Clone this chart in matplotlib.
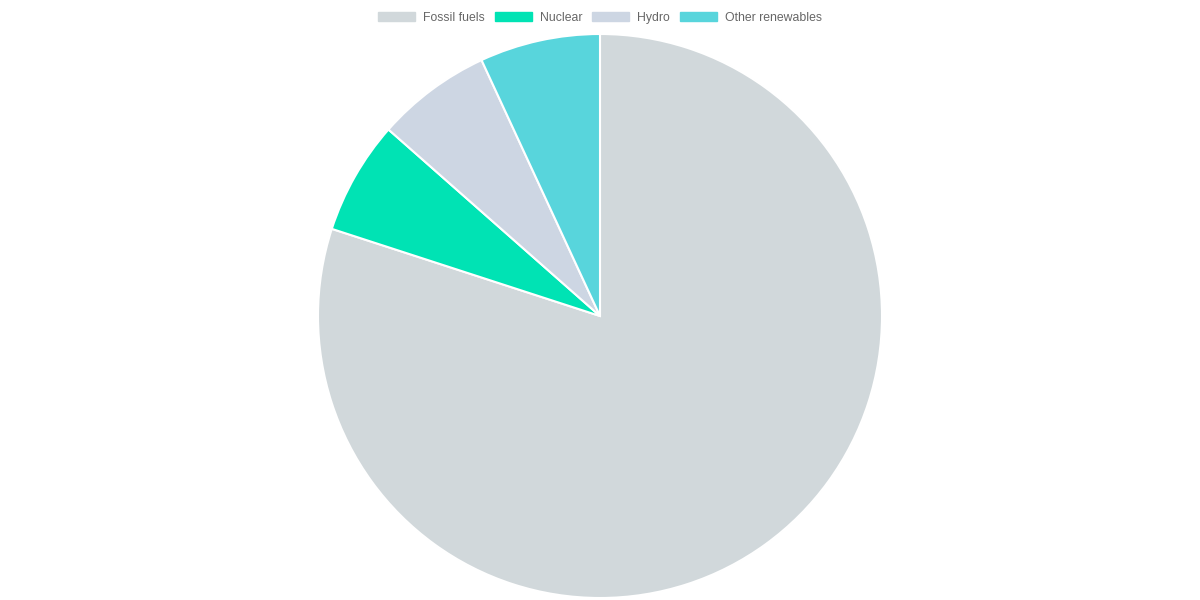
import matplotlib.pyplot as plt
from matplotlib.patches import Patch

# energy mix shares (%)
labels = ["Fossil fuels", "Nuclear", "Hydro", "Other renewables"]
shares = [80.0, 6.5, 6.6, 6.9]
colors = ["#d1d8db", "#00e3b4", "#cdd6e3", "#58d5dc"]

plt.rcParams['font.family'] = ['Liberation Sans', 'DejaVu Sans']

fig = plt.figure(figsize=(12, 6), dpi=100)
ax = fig.add_axes([318 / 1200, 2 / 600, 564 / 1200, 564 / 600])
ax.pie(shares, colors=colors, startangle=90, counterclock=False,
       radius=1.0, wedgeprops=dict(edgecolor="white", linewidth=1.5))
ax.set_xlim(-1.0, 1.0)
ax.set_ylim(-1.0, 1.0)
ax.set_aspect("equal")
ax.axis("off")

handles = [Patch(facecolor=c, edgecolor=c, label=l) for l, c in zip(labels, colors)]
leg = fig.legend(handles=handles, loc="upper center", bbox_to_anchor=(0.5, 1.0),
                 ncol=4, frameon=False, fontsize=8.8, handlelength=3.0,
                 handleheight=0.75, handletextpad=0.65, columnspacing=0.85,
                 borderaxespad=0.6)
for t in leg.get_texts():
    t.set_color("#666666")

fig.savefig("out.png", dpi=100)
